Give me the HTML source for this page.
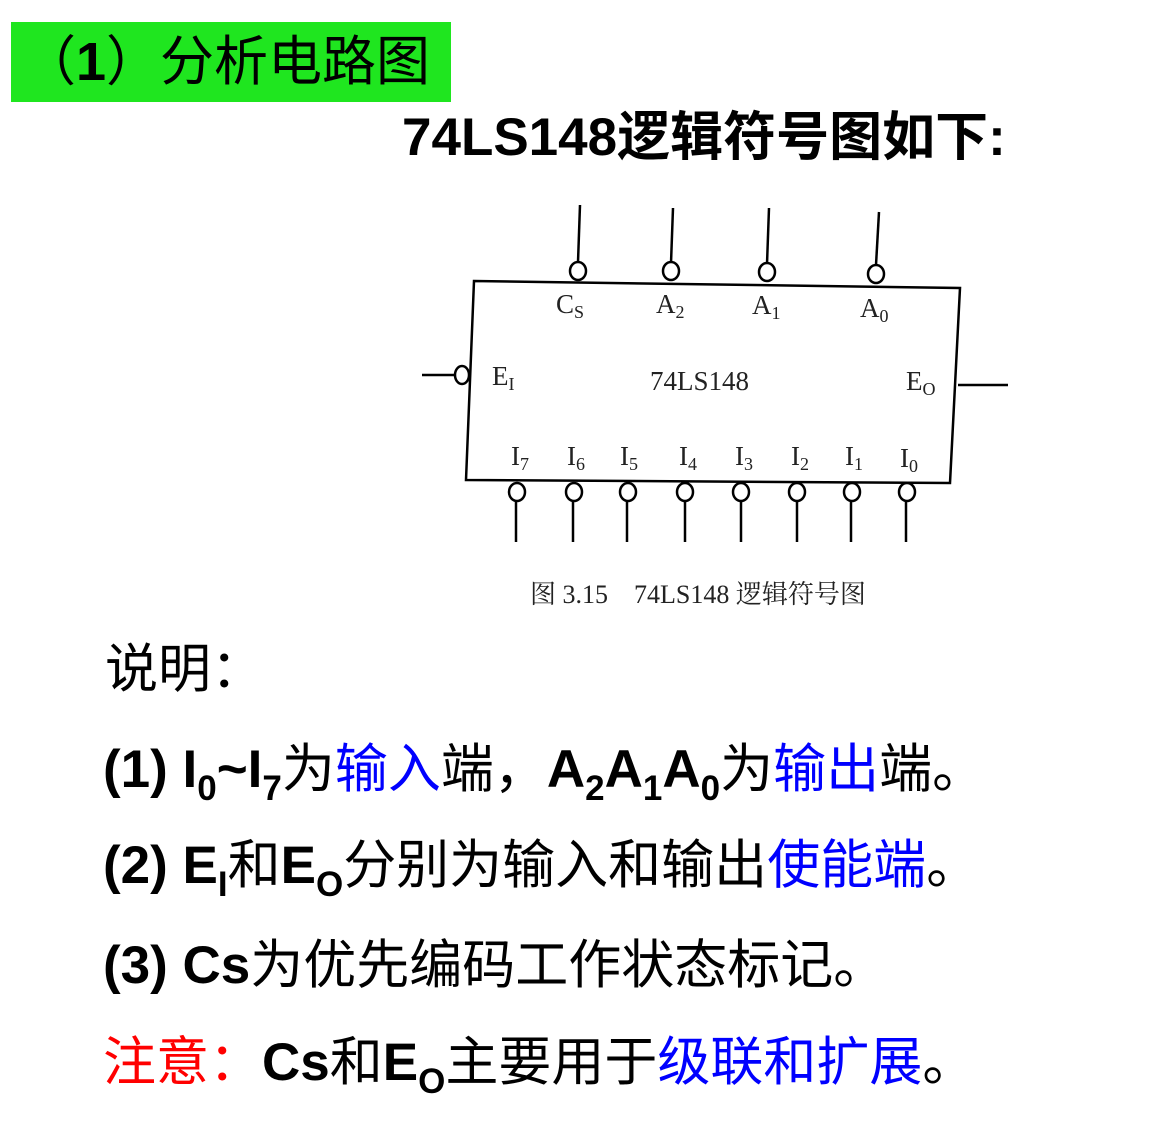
<!DOCTYPE html>
<html><head><meta charset="utf-8"><style>
body{margin:0;width:1155px;height:1129px;background:#fff;position:relative;overflow:hidden;font-family:"Liberation Sans","Noto Sans CJK SC",sans-serif;}
.t{position:absolute;white-space:nowrap;font-size:53px;line-height:60px;color:#000;}
b{font-weight:bold;}
.bl{color:#0000ff}.rd{color:#ff0000}
sub{font-size:35px;vertical-align:-13px;line-height:0;font-weight:bold}
</style></head><body>
<div style="position:absolute;left:11px;top:22px;width:440px;height:80px;background:#1fe61f"></div>
<div class="t" style="left:22px;top:33px;font-size:54px;line-height:58px">（<b>1</b>）分析电路图</div>
<div class="t" style="left:402px;top:108px;font-size:53px;font-weight:bold">74LS148逻辑符号图如下:</div>
<svg style="position:absolute;left:0;top:0" width="1155" height="1129">
<g stroke="#000" stroke-width="2.5" fill="#fff">
<polygon points="474,281 960,288 950,483 466,480" fill="none"/>
<line x1="580" y1="205" x2="578" y2="262"/><line x1="673" y1="208" x2="671" y2="263"/><line x1="769" y1="208" x2="767" y2="264"/><line x1="879" y1="212" x2="876" y2="265"/>
<ellipse cx="578" cy="271" rx="8" ry="9"/><ellipse cx="671" cy="271" rx="8" ry="9"/><ellipse cx="767" cy="272" rx="8" ry="9"/><ellipse cx="876" cy="274" rx="8" ry="9"/>
<line x1="422" y1="375" x2="455" y2="375"/><ellipse cx="462" cy="375" rx="7" ry="9"/>
<line x1="958" y1="385" x2="1008" y2="385"/>
<g>
<line x1="516" y1="500" x2="516" y2="542"/><line x1="573" y1="500" x2="573" y2="542"/><line x1="627" y1="500" x2="627" y2="542"/><line x1="685" y1="500" x2="685" y2="542"/><line x1="741" y1="500" x2="741" y2="542"/><line x1="797" y1="500" x2="797" y2="542"/><line x1="851" y1="500" x2="851" y2="542"/><line x1="906" y1="500" x2="906" y2="542"/>
<ellipse cx="517" cy="492" rx="8" ry="9"/><ellipse cx="574" cy="492" rx="8" ry="9"/><ellipse cx="628" cy="492" rx="8" ry="9"/><ellipse cx="685" cy="492" rx="8" ry="9"/><ellipse cx="741" cy="492" rx="8" ry="9"/><ellipse cx="797" cy="492" rx="8" ry="9"/><ellipse cx="852" cy="492" rx="8" ry="9"/><ellipse cx="907" cy="492" rx="8" ry="9"/>
</g></g>
<g font-family="Liberation Serif,serif" font-size="27" fill="#222">
<text x="556" y="313">C<tspan font-size="18" dy="5">S</tspan></text>
<text x="656" y="313">A<tspan font-size="18" dy="5">2</tspan></text>
<text x="752" y="314">A<tspan font-size="18" dy="5">1</tspan></text>
<text x="860" y="317">A<tspan font-size="18" dy="5">0</tspan></text>
<text x="492" y="385">E<tspan font-size="18" dy="5">I</tspan></text>
<text x="650" y="390">74LS148</text>
<text x="906" y="390">E<tspan font-size="18" dy="5">O</tspan></text>
<text x="511" y="465">I<tspan font-size="18" dy="5">7</tspan></text>
<text x="567" y="465">I<tspan font-size="18" dy="5">6</tspan></text>
<text x="620" y="465">I<tspan font-size="18" dy="5">5</tspan></text>
<text x="679" y="465">I<tspan font-size="18" dy="5">4</tspan></text>
<text x="735" y="465">I<tspan font-size="18" dy="5">3</tspan></text>
<text x="791" y="465">I<tspan font-size="18" dy="5">2</tspan></text>
<text x="845" y="465">I<tspan font-size="18" dy="5">1</tspan></text>
<text x="900" y="467">I<tspan font-size="18" dy="5">0</tspan></text>
<text x="530" y="603" font-size="26" font-family="Liberation Serif,Noto Serif CJK SC,serif">图 3.15　74LS148 逻辑符号图</text>
</g>
</svg>
<div class="t" style="left:105px;top:640px">说明：</div>
<div class="t" style="left:103px;top:740px"><b>(1) I<sub>0</sub>~I<sub>7</sub></b>为<span class="bl">输入</span>端，<b>A<sub>2</sub>A<sub>1</sub>A<sub>0</sub></b>为<span class="bl">输出</span>端。</div>
<div class="t" style="left:103px;top:836px"><b>(2) E<sub>I</sub></b>和<b>E<sub>O</sub></b>分别为输入和输出<span class="bl">使能端</span>。</div>
<div class="t" style="left:103px;top:936px"><b>(3) Cs</b>为优先编码工作状态标记。</div>
<div class="t" style="left:103px;top:1033px"><span class="rd">注意：</span><b>Cs</b>和<b>E<sub>O</sub></b>主要用于<span class="bl">级联和扩展</span>。</div>
</body></html>
